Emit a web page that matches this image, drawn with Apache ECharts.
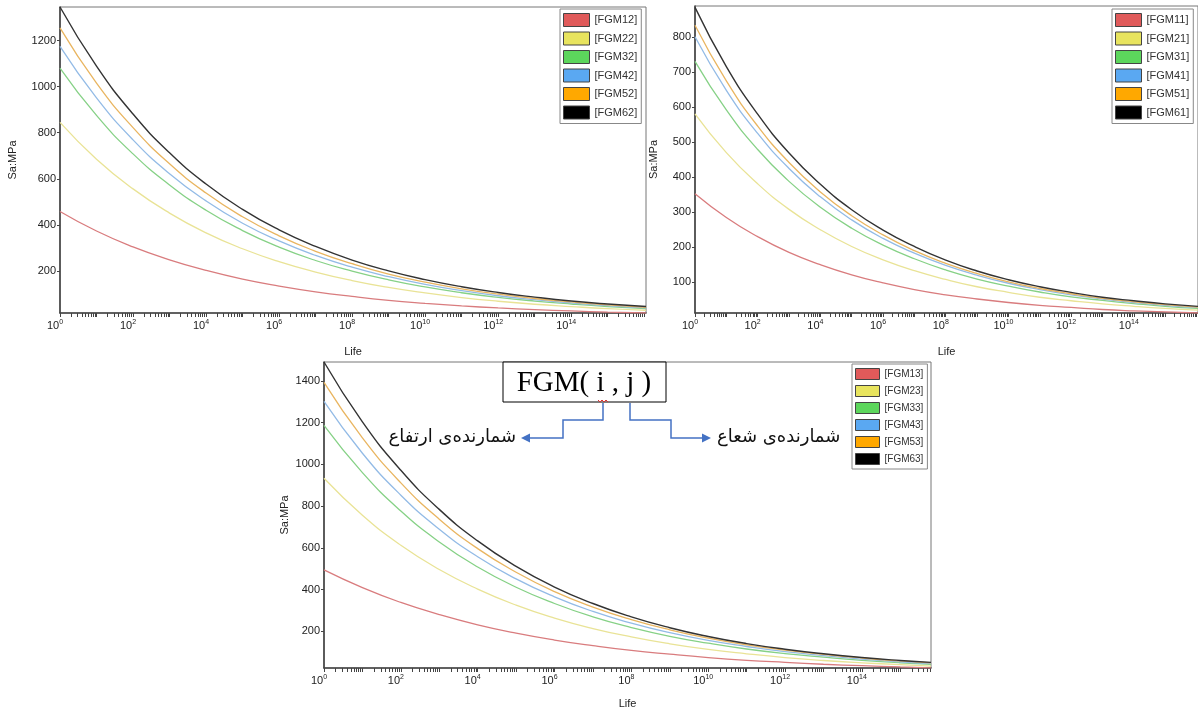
<!DOCTYPE html>
<html>
<head>
<meta charset="utf-8">
<script src="https://cdn.jsdelivr.net/npm/echarts@6/dist/echarts.min.js"></script>
<style>
html,body{margin:0;padding:0;background:#fff;}
#chart{width:1198px;height:711px;}
</style>
</head>
<body>
<div id="chart"></div>
<script>
// ---------- DATA ----------
// Life values (cycles) at which the curves are sampled
const lifeTop    = [1,1e1,1e2,1e3,1e4,1e5,1e6,1e7,1e8,1e9,1e10,1e11,1e12,1e13,1e14,1e15,1.12e16];
const lifeBottom = [1,1e1,1e2,1e3,1e4,1e5,1e6,1e7,1e8,1e9,1e10,1e11,1e12,1e13,1e14,1e15,6.3e15];

// Chart 1 (j = 2)
const names1 = ['[FGM12]','[FGM22]','[FGM32]','[FGM42]','[FGM52]','[FGM62]'];
const fgm12 = [458,373,304,248,202,164,134,109,89,72,59,48,39,32,26,21,17];
const fgm22 = [845,685,556,451,365,296,240,195,158,128,104,84,68,55,45,36,29];
const fgm32 = [1081,875,708,573,463,375,303,245,199,161,130,105,85,69,56,45,36];
const fgm42 = [1175,951,769,622,504,407,330,267,216,175,141,114,92,75,61,49,39];
const fgm52 = [1255,1015,822,665,538,435,352,285,231,186,151,122,99,80,65,52,42];
const fgm62 = [1346,1089,881,713,577,467,378,306,247,200,162,131,106,86,69,56,45];

// Chart 2 (j = 1)
const names2 = ['[FGM11]','[FGM21]','[FGM31]','[FGM41]','[FGM51]','[FGM61]'];
const fgm11 = [352,284,229,184,149,120,97,78,63,51,41,33,27,21,17,14,11];
const fgm21 = [580,469,380,307,249,201,163,132,107,86,70,56,46,37,30,24,19];
const fgm31 = [730,591,478,387,313,253,205,166,134,108,88,71,57,47,38,30,24];
const fgm41 = [800,647,524,424,343,277,224,182,147,119,96,78,63,51,41,33,27];
const fgm51 = [833,674,545,441,357,289,234,189,153,124,100,81,66,53,43,35,28];
const fgm61 = [884,715,579,468,379,306,248,201,162,131,106,86,70,56,46,37,30];

// Chart 3 (j = 3)
const names3 = ['[FGM13]','[FGM23]','[FGM33]','[FGM43]','[FGM53]','[FGM63]'];
const fgm13 = [494,409,338,280,231,191,158,131,108,90,74,61,51,42,35,29,25];
const fgm23 = [933,756,612,496,402,325,263,213,173,140,113,92,74,60,49,40,33];
const fgm33 = [1186,960,776,628,508,411,333,269,218,176,143,115,93,76,61,49,42];
const fgm43 = [1301,1053,852,689,557,451,365,295,239,193,156,127,102,83,67,54,46];
const fgm53 = [1392,1126,911,737,596,483,390,316,256,207,167,135,110,89,72,58,49];
const fgm63 = [1490,1203,971,784,633,511,412,333,269,217,175,141,114,92,74,60,51];

// Tick labels
const xLabelExponents = [0,2,4,6,8,10,12,14];
const yTicks1 = [200,400,600,800,1000,1200];
const yTicks2 = [100,200,300,400,500,600,700,800];
const yTicks3 = [200,400,600,800,1000,1200,1400];

// ---------- STYLE ----------
const FONT = 'Liberation Sans, Arial, sans-serif';
const swatchColors = ['#e05a5a','#e8e45e','#5cd65c','#5aa8f2','#ffa800','#000000'];
const lineColors   = ['#d97c7e','#e9e396','#86d186','#93bbe6','#e9b560','#333333'];

const chart = echarts.init(document.getElementById('chart'), null, {renderer:'canvas'});

function logTickValues(maxVal){
  const t = [];
  for (let d = 0; d <= 16; d++) {
    for (let k = 1; k <= 9; k++) {
      const v = k * Math.pow(10, d);
      if (v <= maxVal * 1.0001) t.push(v);
    }
  }
  return t;
}
const xLabelValues = xLabelExponents.map(e => Math.pow(10, e));

function makeX(gridIndex, maxVal, nameGap){
  return {
    type:'log', logBase:10, gridIndex, min:1, max:maxVal,
    name:'Life', nameLocation:'middle', nameGap,
    nameTextStyle:{fontSize:11, color:'#222', fontFamily:FONT},
    axisLine:{onZero:false, lineStyle:{color:'#444', width:1.6}},
    axisTick:{customValues: logTickValues(maxVal), length:4, inside:false, lineStyle:{color:'#444', width:1}},
    axisLabel:{
      customValues: xLabelValues, margin:6, padding:[0,10,0,0],
      formatter: v => '{b|10}{s|' + Math.round(Math.log10(v)) + '}',
      rich:{
        b:{fontSize:11, color:'#222', fontFamily:FONT, lineHeight:14},
        s:{fontSize:7, color:'#222', fontFamily:FONT, lineHeight:8, verticalAlign:'top'}
      }
    },
    splitLine:{show:false}
  };
}
function makeY(gridIndex, minVal, maxVal, ticks, nameGap){
  return {
    type:'value', gridIndex, min:minVal, max:maxVal,
    name:'Sa:MPa', nameLocation:'middle', nameGap, nameRotate:90, nameMoveOverlap:false,
    nameTextStyle:{fontSize:11, color:'#222', fontFamily:FONT},
    axisLine:{show:true, onZero:false, lineStyle:{color:'#444', width:1.6}},
    axisTick:{show:true, customValues: ticks, length:3, lineStyle:{color:'#444'}},
    axisLabel:{customValues: ticks, margin:4, fontSize:11, color:'#222', fontFamily:FONT,
      formatter: v => String(Math.round(v))},
    splitLine:{show:false}
  };
}
function makeLegend(names, left, top, iw, ih, gap, fs){
  return {
    data: names, orient:'vertical', left, top, icon:'rect',
    itemWidth: iw, itemHeight: ih, itemGap: gap,
    padding:[4,4,4,3], borderColor:'#888', borderWidth:1, backgroundColor:'#fff',
    textStyle:{fontSize:fs, color:'#333', fontFamily:FONT},
    itemStyle:{borderColor:'#444', borderWidth:1},
    selectedMode:false, z:10
  };
}
function makeSeries(idx, life, names, arrays){
  return arrays.map((vals, j) => ({
    type:'line', name:names[j], xAxisIndex:idx, yAxisIndex:idx,
    data: life.map((x, i) => [x, vals[i]]),
    symbol:'none', showSymbol:false, smooth:true,
    itemStyle:{color: swatchColors[j]},
    lineStyle:{color: lineColors[j], width: j === 5 ? 1.4 : 1.3},
    emphasis:{disabled:true}, silent:true
  }));
}

const blue = '#4472c4';
const option = {
  animation:false,
  backgroundColor:'#fff',
  grid:[
    {left:60, top:7, width:586, height:306, show:true, borderColor:'#777', borderWidth:1, containLabel:false},
    {left:695, top:6, width:507, height:307, show:true, borderColor:'#777', borderWidth:1, containLabel:false},
    {left:324, top:362, width:607, height:306, show:true, borderColor:'#777', borderWidth:1, containLabel:false}
  ],
  xAxis:[ makeX(0, 1.12e16, 33), makeX(1, 1.12e16, 33), makeX(2, 6.3e15, 30) ],
  yAxis:[ makeY(0, 17, 1346, yTicks1, 42), makeY(1, 11, 888, yTicks2, 36), makeY(2, 24, 1490, yTicks3, 34) ],
  legend:[
    makeLegend(names1, 560, 9, 26, 13, 4.5, 11),
    makeLegend(names2, 1112, 9, 26, 13, 4.5, 11),
    makeLegend(names3, 852, 364, 24, 11, 5, 10)
  ],
  series:[].concat(
    makeSeries(0, lifeTop, names1, [fgm12, fgm22, fgm32, fgm42, fgm52, fgm62]),
    makeSeries(1, lifeTop, names2, [fgm11, fgm21, fgm31, fgm41, fgm51, fgm61]),
    makeSeries(2, lifeBottom, names3, [fgm13, fgm23, fgm33, fgm43, fgm53, fgm63])
  ),
  graphic:[
    {type:'rect', z:20, shape:{x:503, y:362, width:163, height:40}, style:{fill:'#fff', stroke:'#000', lineWidth:1}},
    {type:'text', z:21, x:584, y:383, style:{text:'FGM( i , j )', font:'29px "Liberation Serif", "Times New Roman", serif', fill:'#000', align:'center', verticalAlign:'middle'}},
    {type:'polyline', z:22, shape:{points:[[598,400],[600,402],[602,400],[604,402],[606,400],[608,402]]}, style:{stroke:'#e03030', lineWidth:1, fill:null}},
    {type:'polyline', z:20, shape:{points:[[603,403],[603,420],[563,420],[563,438],[529,438]]}, style:{stroke:blue, lineWidth:1.5, fill:null}},
    {type:'polygon', z:20, shape:{points:[[521,438],[530,433.5],[530,442.5]]}, style:{fill:blue}},
    {type:'polyline', z:20, shape:{points:[[630,403],[630,420],[671,420],[671,438],[703,438]]}, style:{stroke:blue, lineWidth:1.5, fill:null}},
    {type:'polygon', z:20, shape:{points:[[711,438],[702,433.5],[702,442.5]]}, style:{fill:blue}},
    {type:'text', z:20, x:516, y:437, style:{text:'شمارنده\u200cی ارتفاع', font:'18px "DejaVu Sans", sans-serif', fill:'#111', align:'right', verticalAlign:'middle'}},
    {type:'text', z:20, x:717, y:437, style:{text:'شمارنده\u200cی شعاع', font:'18px "DejaVu Sans", sans-serif', fill:'#111', align:'left', verticalAlign:'middle'}}
  ]
};
chart.setOption(option);
</script>
</body>
</html>
